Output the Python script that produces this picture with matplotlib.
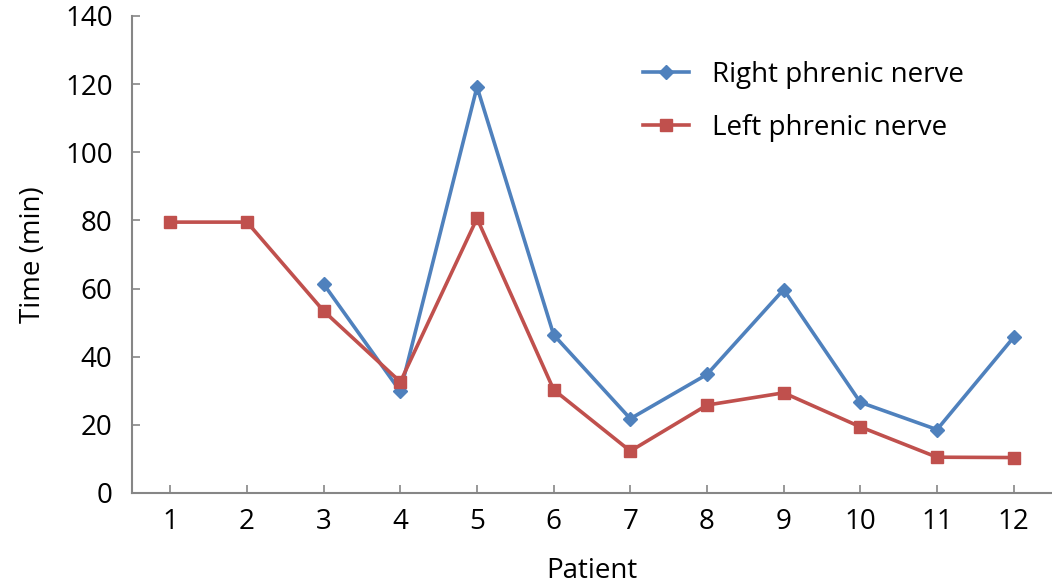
import numpy as np
import matplotlib.pyplot as plt

plt.rcParams['font.family'] = ['Open Sans', 'DejaVu Sans']

patients = list(range(1, 13))
right_nerve = [np.nan, np.nan, 61.3, 29.8, 119.2, 46.4, 21.8, 34.8, 59.7, 26.6, 18.6, 45.7]
left_nerve = [79.5, 79.5, 53.4, 32.6, 80.6, 30.3, 12.3, 25.8, 29.4, 19.4, 10.5, 10.4]

BLUE = '#4F81BD'
RED = '#C0504D'
GRAY = '#868686'

fig = plt.figure(figsize=(10.52, 5.88), dpi=100)
ax = fig.add_axes([0.1255, 0.1616, 0.8745, 0.8112])

ax.plot(patients, right_nerve, color=BLUE, lw=2.6, marker='D', ms=7,
        label='Right phrenic nerve')
ax.plot(patients, left_nerve, color=RED, lw=2.6, marker='s', ms=9,
        label='Left phrenic nerve')

ax.set_xlim(0.5, 12.5)
ax.set_ylim(0, 140)
ax.set_xticks(patients)
ax.set_yticks(range(0, 141, 20))

for side in ('top', 'right'):
    ax.spines[side].set_visible(False)
for side in ('left', 'bottom'):
    ax.spines[side].set_color(GRAY)
    ax.spines[side].set_linewidth(1.5)

ax.tick_params(direction='in', length=6, width=1.2, color=GRAY,
               labelsize=20, pad=11)
ax.tick_params(axis='y', pad=14)

ax.set_xlabel('Patient', fontsize=20, labelpad=15)
ax.set_ylabel('Time (min)', fontsize=20, labelpad=13)

ax.legend(loc='upper left', bbox_to_anchor=(643 / 1052, 1 - 61 / 588),
          bbox_transform=fig.transFigure, borderaxespad=0, borderpad=0,
          frameon=False, fontsize=20, handlelength=1.65, labelspacing=0.9,
          handletextpad=0.85)

fig.savefig('out.png', dpi=100)
